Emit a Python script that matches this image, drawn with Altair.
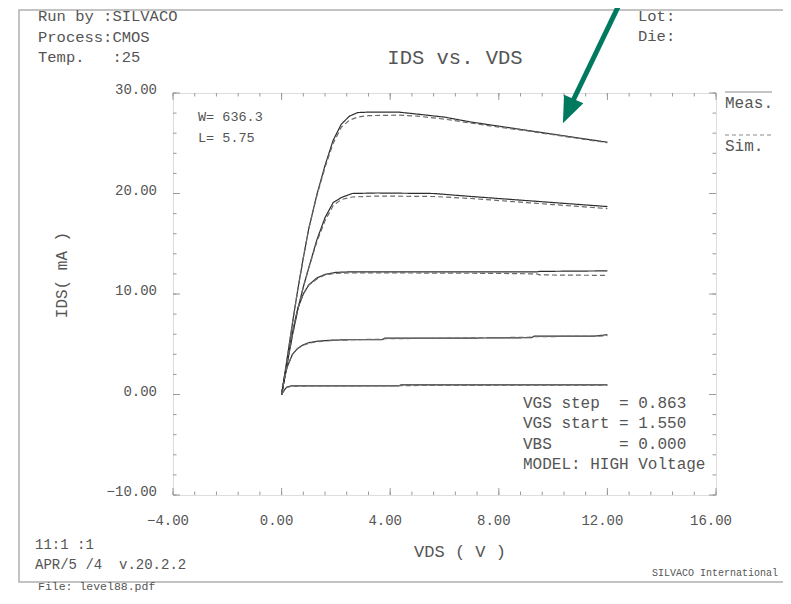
import altair as alt
import pandas as pd

# ---------------- data ----------------
vds_1 = [0, 0.2, 0.4, 0.6, 0.8, 1.0, 1.3, 1.6, 1.9, 2.2, 2.5, 2.8, 3.2, 4.3, 5.0, 6.0, 7.0, 8.0, 9.0, 10.0, 11.0, 12.0]
meas_1 = [0, 3.5, 7.1, 10.5, 13.6, 16.5, 19.9, 22.8, 25.3, 26.9, 27.7, 28.05, 28.1, 28.1, 27.9, 27.6, 27.1, 26.7, 26.3, 25.9, 25.5, 25.1]
sim_1 = [0, 3.5, 7.1, 10.5, 13.6, 16.5, 19.8, 22.6, 25.0, 26.6, 27.3, 27.6, 27.75, 27.8, 27.7, 27.4, 27.0, 26.6, 26.25, 25.85, 25.45, 25.05]

vds_2 = [0, 0.2, 0.4, 0.6, 0.8, 1.0, 1.3, 1.6, 1.9, 2.2, 2.6, 3.5, 5.6, 7.0, 8.5, 10.0, 11.0, 12.0]
meas_2 = [0, 3.0, 5.9, 8.5, 10.7, 12.6, 15.4, 17.6, 19.1, 19.6, 20.0, 20.05, 20.0, 19.7, 19.4, 19.1, 18.9, 18.7]
sim_2 = [0, 3.0, 5.9, 8.5, 10.7, 12.6, 15.2, 17.3, 18.8, 19.4, 19.65, 19.75, 19.7, 19.5, 19.2, 18.9, 18.7, 18.5]

vds_3 = [0, 0.2, 0.4, 0.6, 0.8, 1.0, 1.3, 1.6, 2.0, 2.5, 4.0, 8.0, 9.4, 9.5, 12.0]
meas_3 = [0, 3.2, 6.2, 8.6, 10.0, 10.9, 11.6, 11.95, 12.15, 12.2, 12.2, 12.2, 12.2, 12.25, 12.3]
sim_3 = [0, 3.2, 6.2, 8.6, 10.0, 10.9, 11.5, 11.9, 12.05, 12.1, 12.1, 12.05, 12.0, 11.9, 11.85]

vds_4 = [0, 0.1, 0.2, 0.4, 0.6, 0.8, 1.0, 1.3, 1.8, 2.5, 3.7, 3.8, 6.0, 9.2, 9.3, 11.5, 12.0]
meas_4 = [0, 1.5, 2.7, 4.0, 4.6, 4.95, 5.15, 5.3, 5.4, 5.45, 5.45, 5.6, 5.6, 5.65, 5.8, 5.8, 5.95]
sim_4 = [0, 1.5, 2.7, 4.0, 4.6, 4.9, 5.1, 5.25, 5.35, 5.45, 5.5, 5.55, 5.6, 5.7, 5.75, 5.8, 5.85]

vds_5 = [0, 0.1, 0.2, 0.35, 0.6, 1.0, 2.0, 3.0, 4.3, 4.4, 6.0, 8.0, 10.0, 12.0]
meas_5 = [0, 0.45, 0.75, 0.85, 0.85, 0.85, 0.85, 0.85, 0.85, 0.95, 0.95, 0.95, 0.95, 0.95]
sim_5 = [0, 0.45, 0.72, 0.8, 0.83, 0.85, 0.86, 0.87, 0.88, 0.89, 0.9, 0.92, 0.93, 0.94]

series_types = ["Meas.", "Sim."]
x_major = [-4, 0, 4, 8, 12, 16]
y_major = [-10, 0, 10, 20, 30]
x_minor = [-4 + 0.8 * k for k in range(26)]
y_minor = [-10 + 2 * k for k in range(21)]

header_left = ["Run by :SILVACO", "Process:CMOS", "Temp.   :25"]
header_right = ["Lot:", "Die:"]
title_text = "IDS vs. VDS"
geom_lines = ["W= 636.3", "L= 5.75"]
param_lines = ["VGS step  = 0.863", "VGS start = 1.550", "VBS       = 0.000", "MODEL: HIGH Voltage"]
footer_left = ["11:1 :1", "APR/5 /4  v.20.2.2"]
footer_right = "SILVACO International"
file_text = "File: level88.pdf"
x_title = "VDS ( V )"
y_title = "IDS( mA )"

# ---------------- build table ----------------
rows = []
curves = [(vds_1, meas_1, sim_1), (vds_2, meas_2, sim_2), (vds_3, meas_3, sim_3),
          (vds_4, meas_4, sim_4), (vds_5, meas_5, sim_5)]
for i, (v, m, s) in enumerate(curves):
    for xv, yv in zip(v, m):
        rows.append({"vds": xv, "ids": yv, "type": "Meas.", "series": f"{i}-m"})
    for xv, yv in zip(v, s):
        rows.append({"vds": xv, "ids": yv, "type": "Sim.", "series": f"{i}-s"})
df = pd.DataFrame(rows)

W, H = 543, 402
FONT = "Liberation Mono"
TXT = "#555555"
FRAME = "#9a9a9a"
ARROW = "#007a5e"

xs = alt.Scale(domain=[-4, 16], nice=False, zero=False)
ys = alt.Scale(domain=[-10, 30], nice=False, zero=False)

lines = alt.Chart(df).mark_line(strokeWidth=1.2).encode(
    x=alt.X("vds:Q", scale=xs, axis=None),
    y=alt.Y("ids:Q", scale=ys, axis=None),
    detail="series:N",
    color=alt.Color("type:N", scale=alt.Scale(domain=series_types, range=["#2e2e2e", "#6a6a6a"]), legend=None),
    strokeDash=alt.StrokeDash("type:N", scale=alt.Scale(domain=series_types, range=[[1, 0], [5, 3]]), legend=None),
)


def tick_layer(vals, orient, length):
    base = alt.Chart(pd.DataFrame({"v": vals})).mark_rule(color=FRAME, strokeWidth=1)
    if orient == "bottom":
        return base.encode(x=alt.X("v:Q", scale=xs, axis=None), y=alt.value(H), y2=alt.value(H - length))
    if orient == "top":
        return base.encode(x=alt.X("v:Q", scale=xs, axis=None), y=alt.value(0), y2=alt.value(length))
    if orient == "left":
        return base.encode(y=alt.Y("v:Q", scale=ys, axis=None), x=alt.value(0), x2=alt.value(length))
    return base.encode(y=alt.Y("v:Q", scale=ys, axis=None), x=alt.value(W), x2=alt.value(W - length))


ticks = []
for side in ["bottom", "top"]:
    ticks.append(tick_layer(x_minor, side, 3.5))
    ticks.append(tick_layer(x_major, side, 7))
for side in ["left", "right"]:
    ticks.append(tick_layer(y_minor, side, 3.5))
    ticks.append(tick_layer(y_major, side, 7))

x_labels = alt.Chart(pd.DataFrame({"v": x_major})).mark_text(
    font=FONT, fontSize=14, color=TXT, align="center", baseline="middle", dx=-5
).encode(x=alt.X("v:Q", scale=xs, axis=None), y=alt.value(H + 26), text=alt.Text("v:Q", format=".2f"))
y_labels = alt.Chart(pd.DataFrame({"v": y_major})).mark_text(
    font=FONT, fontSize=14, color=TXT, align="right", baseline="middle", dy=-3
).encode(y=alt.Y("v:Q", scale=ys, axis=None), x=alt.value(-16), text=alt.Text("v:Q", format=".2f"))


def label(text, x, y, size, align="left", angle=0, color=TXT):
    t = text.replace(" ", "\u00a0")
    return alt.Chart(pd.DataFrame({"t": [t]})).mark_text(
        font=FONT, fontSize=size, color=color, align=align, baseline="middle", angle=angle
    ).encode(x=alt.value(x), y=alt.value(y), text="t:N")


texts = []
for i, s in enumerate(header_left):
    texts.append(label(s, -135, -77 + 20.5 * i, 15.5))
for i, s in enumerate(header_right):
    texts.append(label(s, 465, -77 + 20 * i, 15.5))
texts.append(label(title_text, 282, -35, 20.5, align="center"))
for i, s in enumerate(geom_lines):
    texts.append(label(s, 25, 24 + 21 * i, 13.5))
for i, s in enumerate(param_lines):
    texts.append(label(s, 350, 310 + 20.3 * i, 16))
texts.append(label(series_types[0], 552, 10, 16))
texts.append(label(series_types[1], 552, 53, 16))
texts.append(label(y_title, -111, 182, 16, align="center", angle=270))
texts.append(label(x_title, 287, 459, 17, align="center"))
for i, s in enumerate(footer_left):
    texts.append(label(s, -138, 452 + 20 * i, 14))
texts.append(label(footer_right, 605, 480, 10, align="right"))
texts.append(label(file_text, -135, 494, 11.5))

one = pd.DataFrame({"a": [0]})
legend_solid = alt.Chart(one).mark_rule(color="#8a8a8a", strokeWidth=1).encode(
    x=alt.value(552), x2=alt.value(599), y=alt.value(-1))
legend_dash = alt.Chart(one).mark_rule(color="#8a8a8a", strokeWidth=1, strokeDash=[4, 3]).encode(
    x=alt.value(552), x2=alt.value(599), y=alt.value(42))
border = alt.Chart(one).mark_rect(fill=None, stroke="#b0b0b0", strokeWidth=1.5).encode(
    x=alt.value(-154), x2=alt.value(630), y=alt.value(-83), y2=alt.value(489))
arrow_line = alt.Chart(one).mark_rule(color=ARROW, strokeWidth=5).encode(
    x=alt.value(445), x2=alt.value(396), y=alt.value(-86), y2=alt.value(16))
arrow_head = alt.Chart(one).mark_point(
    shape="M0,-1L0.8,1L-0.8,1Z", filled=True, opacity=1, color=ARROW, size=700, angle=204
).encode(x=alt.value(395.3), y=alt.value(18.1))

chart = alt.layer(
    border, *ticks, x_labels, y_labels, lines, legend_solid, legend_dash, *texts, arrow_line, arrow_head
).properties(
    width=W, height=H,
    autosize=alt.AutoSizeParams(type="none"),
    padding={"left": 165, "top": 85, "right": 67, "bottom": 101},
).configure_view(stroke=FRAME, strokeWidth=1.5).configure(background="white")

chart.save("out.html", embed_options={"renderer": "svg", "actions": False})
